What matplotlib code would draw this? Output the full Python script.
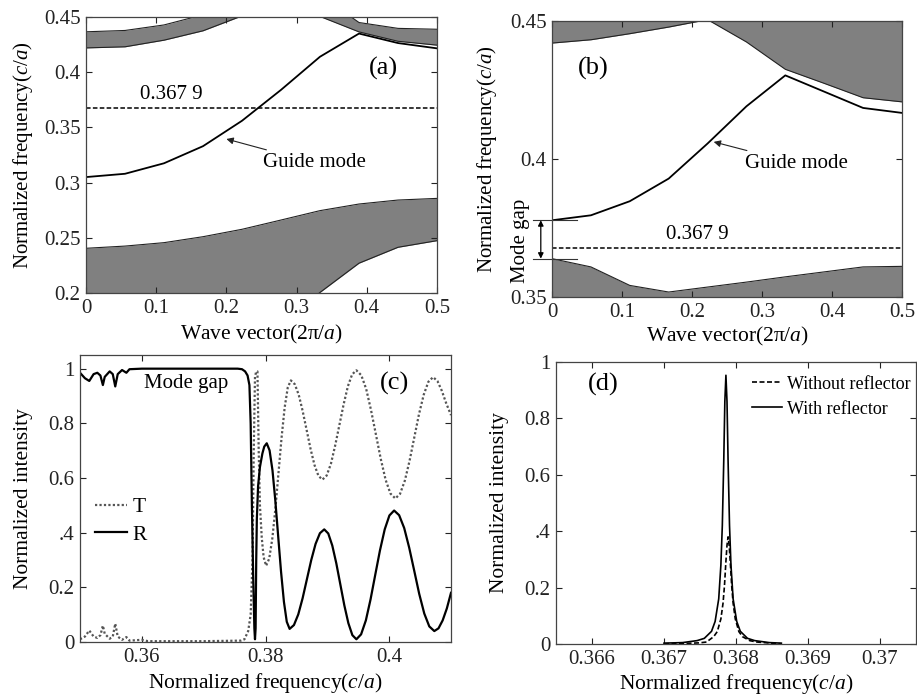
import matplotlib
matplotlib.use("Agg")
import matplotlib.pyplot as plt

plt.rcParams['font.family'] = ['Liberation Serif', 'DejaVu Serif']
plt.rcParams['mathtext.fontset'] = 'custom'
plt.rcParams['mathtext.rm'] = 'Liberation Serif'
plt.rcParams['mathtext.it'] = 'Liberation Serif:italic'
plt.rcParams['mathtext.bf'] = 'Liberation Serif:bold'

# ---------------- band diagrams ----------------
wave_vector = [0.0, 0.0556, 0.1111, 0.1667, 0.2222, 0.2778, 0.3333, 0.3889, 0.4444, 0.5]

# (a) waveguide without reflector
a_guide = [0.305, 0.308, 0.3175, 0.333, 0.356, 0.384, 0.414, 0.435, 0.4264, 0.4216]
a_upper_lo = [0.422, 0.423, 0.429, 0.4375, 0.451, 0.47, 0.4505, 0.4365, 0.428, 0.4245]
a_upper_hi = [0.4366, 0.4378, 0.4428, 0.452, 0.49, 0.49, 0.47, 0.445, 0.4397, 0.4389]
a_lower_lo = [0.10, 0.10, 0.10, 0.10, 0.10, 0.17, 0.2005, 0.227, 0.2414, 0.2474]
a_lower_hi = [0.2405, 0.2425, 0.2456, 0.251, 0.2577, 0.2661, 0.2746, 0.2806, 0.2842, 0.2857]

# (b) waveguide with reflector
b_guide = [0.3778, 0.3796, 0.3847, 0.3929, 0.4056, 0.4191, 0.4303, 0.4244, 0.4185, 0.4167]
b_upper_lo = [0.442, 0.4432, 0.4454, 0.4478, 0.4505, 0.4424, 0.4325, 0.4274, 0.4222, 0.4207]
b_upper_hi = [0.46] * 10
b_lower_lo = [0.34] * 10
b_lower_hi = [0.3639, 0.3609, 0.3542, 0.3518, 0.3536, 0.3554, 0.3573, 0.3591, 0.3609, 0.3611]

resonance = 0.3679

# ---------------- (c) transmission / reflection spectra ----------------
freq_R = [0.3500, 0.3508, 0.3515, 0.3522, 0.3528, 0.3533, 0.3537, 0.3540, 0.3548,
          0.3553, 0.3557, 0.3561, 0.3568, 0.3575, 0.3580, 0.3600, 0.3700, 0.3755,
          0.3762, 0.3767, 0.3771, 0.3774, 0.3776, 0.3778, 0.3780, 0.3782, 0.3783,
          0.3784, 0.3785, 0.3786, 0.3788, 0.3791, 0.3795, 0.3798, 0.3802,
          0.38066, 0.38113, 0.38159, 0.38205, 0.38251, 0.38298, 0.38344, 0.3839,
          0.3846, 0.3853, 0.3860, 0.3867, 0.3874, 0.3881, 0.3888, 0.3895,
          0.39015, 0.3908, 0.39145, 0.3921, 0.39275, 0.3934, 0.39405, 0.3947,
          0.39546, 0.39623, 0.39699, 0.39775, 0.39851, 0.39928, 0.40004, 0.4008,
          0.40161, 0.40243, 0.40324, 0.40405, 0.40486, 0.40568, 0.40649, 0.4073,
          0.40798, 0.40865, 0.40933, 0.4100]
refl = [0.985, 0.965, 0.955, 0.980, 0.985, 0.975, 0.940, 0.970, 0.990,
        0.980, 0.935, 0.980, 0.995, 0.985, 0.998, 1.000, 1.000, 1.000,
        0.998, 0.990, 0.975, 0.940, 0.800, 0.500, 0.250, 0.050, 0.010,
        0.050, 0.300, 0.450, 0.570, 0.640, 0.690, 0.715, 0.727,
        0.701, 0.628, 0.517, 0.387, 0.258, 0.147, 0.074, 0.048,
        0.062, 0.101, 0.160, 0.230, 0.300, 0.359, 0.398, 0.412,
        0.397, 0.353, 0.288, 0.211, 0.134, 0.069, 0.025, 0.010,
        0.028, 0.079, 0.156, 0.246, 0.335, 0.412, 0.463, 0.481,
        0.464, 0.417, 0.345, 0.261, 0.176, 0.104, 0.057, 0.040,
        0.050, 0.079, 0.123, 0.180]

freq_T = [0.3500, 0.3508, 0.3515, 0.3522, 0.3528, 0.3533, 0.3537, 0.3540, 0.3548,
          0.3553, 0.3557, 0.3561, 0.3568, 0.3575, 0.3580, 0.3600, 0.3610, 0.3700,
          0.3760, 0.3766, 0.3772, 0.3776, 0.3779, 0.3781, 0.3783, 0.3785, 0.3787,
          0.3789, 0.3791, 0.3794, 0.3797, 0.3801,
          0.3806, 0.3811, 0.3816, 0.3821, 0.3826, 0.3831, 0.3836, 0.3841,
          0.38474, 0.38538, 0.38601, 0.38665, 0.38729, 0.38793, 0.38856, 0.3892,
          0.38989, 0.39058, 0.39126, 0.39195, 0.39264, 0.39333, 0.39401, 0.3947,
          0.39549, 0.39628, 0.39706, 0.39785, 0.39864, 0.39943, 0.40021, 0.4010,
          0.40176, 0.40253, 0.40329, 0.40405, 0.40481, 0.40558, 0.40634, 0.4071,
          0.4078, 0.4085, 0.4092, 0.4100]
trans = [0.010, 0.020, 0.042, 0.020, 0.015, 0.025, 0.060, 0.030, 0.012,
         0.020, 0.067, 0.020, 0.008, 0.018, 0.005, 0.008, 0.003, 0.003,
         0.005, 0.010, 0.040, 0.100, 0.300, 0.700, 0.970, 0.990, 0.990,
         0.700, 0.500, 0.380, 0.310, 0.279,
         0.305, 0.378, 0.488, 0.618, 0.748, 0.858, 0.931, 0.957,
         0.943, 0.904, 0.845, 0.776, 0.706, 0.647, 0.608, 0.594,
         0.609, 0.652, 0.718, 0.794, 0.870, 0.936, 0.979, 0.994,
         0.976, 0.926, 0.849, 0.760, 0.670, 0.593, 0.543, 0.525,
         0.542, 0.590, 0.662, 0.747, 0.832, 0.904, 0.952, 0.969,
         0.955, 0.920, 0.875, 0.830]

# ---------------- (d) output near the resonance ----------------
freq_with = [0.36700, 0.36726, 0.36746, 0.36756, 0.36766, 0.36771, 0.36776, 0.36779,
             0.36781, 0.36783, 0.367845, 0.36786, 0.367875, 0.36789, 0.36791, 0.36793,
             0.36796, 0.36801, 0.36806, 0.36816, 0.36826, 0.36846, 0.36863]
with_refl = [0.003, 0.005, 0.012, 0.020, 0.045, 0.080, 0.160, 0.280,
             0.420, 0.650, 0.860, 0.953, 0.860, 0.650, 0.420, 0.280,
             0.160, 0.080, 0.045, 0.020, 0.012, 0.005, 0.003]

freq_without = [0.36700, 0.36729, 0.36749, 0.36759, 0.36769, 0.36774, 0.36779, 0.36782,
                0.36784, 0.36786, 0.367875, 0.36789, 0.367905, 0.36792, 0.36794, 0.36796,
                0.36799, 0.36804, 0.36809, 0.36819, 0.36829, 0.36849, 0.36863]
without_refl = [0.001, 0.002, 0.004, 0.007, 0.026, 0.044, 0.089, 0.145,
                0.207, 0.293, 0.350, 0.380, 0.350, 0.293, 0.207, 0.145,
                0.089, 0.044, 0.026, 0.012, 0.007, 0.003, 0.001]

BAND_GRAY = '#808080'
FS_TICK = 15
FS_LABEL = 15.5
FS_PANEL = 19

W, H = 917, 697
fig = plt.figure(figsize=(W / 100, H / 100), dpi=100)


def add_axes(left, top, right, bottom):
    return fig.add_axes([left / W, 1 - bottom / H, (right - left) / W, (bottom - top) / H])


def style(ax):
    ax.tick_params(direction='in', top=True, right=True, length=4, width=0.8,
                   labelsize=FS_TICK, pad=4, colors='#222222')
    for s in ax.spines.values():
        s.set_color('#444444')
        s.set_linewidth(0.9)


def labels(ax, xlabel, ylabel, xpos, ypos, ysize=FS_LABEL):
    ax.set_xlabel(xlabel, fontsize=FS_LABEL)
    ax.set_ylabel(ylabel, fontsize=ysize)
    ax.xaxis.label.set_verticalalignment('center')
    ax.yaxis.label.set_verticalalignment('center')
    ax.xaxis.set_label_coords(0.5, xpos)
    ax.yaxis.set_label_coords(ypos, 0.5)


def band(ax, lo, hi):
    ax.fill_between(wave_vector, lo, hi, color=BAND_GRAY, lw=0)
    ax.plot(wave_vector, lo, color='#222222', lw=0.8)
    ax.plot(wave_vector, hi, color='#222222', lw=0.8)


FREQ_LABEL = 'Normalized frequency($c/a$)'
WAVE_LABEL = 'Wave vector(2π/$a$)'
ARROW = dict(arrowstyle='-|>', color='#222222', lw=0.8, mutation_scale=10,
             shrinkA=2, shrinkB=0)

# ---------- (a) ----------
ax = add_axes(86, 17, 437, 293)
band(ax, a_upper_lo, a_upper_hi)
band(ax, a_lower_lo, a_lower_hi)
ax.plot(wave_vector, a_guide, color='black', lw=1.3)
ax.axhline(resonance, color='black', lw=1.1, ls=(0, (3, 1.5)))
ax.text(0.122, resonance + 0.003, '0.367 9', ha='center', va='bottom', fontsize=FS_TICK)
ax.annotate('Guide mode', xy=(0.2, 0.3395), xytext=(0.252, 0.3265),
            ha='left', va='top', fontsize=FS_TICK, arrowprops=ARROW)
ax.text(0.423, 0.4038, '(a)', ha='center', va='center', fontsize=FS_PANEL)
ax.set_xlim(0, 0.5)
ax.set_ylim(0.2, 0.45)
ax.set_xticks([0, 0.1, 0.2, 0.3, 0.4, 0.5])
ax.set_xticklabels(['0', '0.1', '0.2', '0.3', '0.4', '0.5'])
ax.set_yticks([0.2, 0.25, 0.3, 0.35, 0.4, 0.45])
ax.set_yticklabels(['0.2', '0.25', '0.3', '0.35', '0.4', '0.45'])
style(ax)
labels(ax, WAVE_LABEL, FREQ_LABEL, -0.152, -0.18, 15)

# ---------- (b) ----------
ax = add_axes(552, 21, 902, 297)
band(ax, b_upper_lo, b_upper_hi)
band(ax, b_lower_lo, b_lower_hi)
ax.plot(wave_vector, b_guide, color='black', lw=1.3)
ax.axhline(resonance, color='black', lw=1.1, ls=(0, (3, 1.5)))
ax.text(0.207, resonance + 0.0012, '0.367 9', ha='center', va='bottom', fontsize=FS_TICK)
ax.annotate('Guide mode', xy=(0.231, 0.4062), xytext=(0.276, 0.4018),
            ha='left', va='top', fontsize=FS_TICK, arrowprops=ARROW)
ax.text(0.059, 0.4327, '(b)', ha='center', va='center', fontsize=FS_PANEL)
# mode gap marker on the left edge
gap_top, gap_bottom = b_guide[0], b_lower_hi[0]
for g in (gap_top, gap_bottom):
    ax.plot([-0.027, 0.035], [g, g], color='#333333', lw=0.8, clip_on=False)
ax.annotate('', xy=(-0.016, gap_bottom), xytext=(-0.016, gap_top),
            arrowprops=dict(arrowstyle='<|-|>', color='black', lw=0.9,
                            mutation_scale=8, shrinkA=0, shrinkB=0),
            annotation_clip=False)
ax.text(-0.045, 0.3705, 'Mode gap', rotation=90, ha='center', va='center',
        fontsize=FS_TICK, clip_on=False)
ax.set_xlim(0, 0.5)
ax.set_ylim(0.35, 0.45)
ax.set_xticks([0, 0.1, 0.2, 0.3, 0.4, 0.5])
ax.set_xticklabels(['0', '0.1', '0.2', '0.3', '0.4', '0.5'])
ax.set_yticks([0.35, 0.4, 0.45])
ax.set_yticklabels(['0.35', '0.4', '0.45'])
style(ax)
labels(ax, WAVE_LABEL, FREQ_LABEL, -0.144, -0.187, 15)

# ---------- (c) ----------
ax = add_axes(80, 355, 451, 642)
ax.plot(freq_T, trans, color='#555555', lw=1.6, ls=(0, (1, 1)), label='T')
ax.plot(freq_R, refl, color='black', lw=1.6, label='R')
ax.text(0.3604, 0.945, 'Mode gap', ha='left', va='center', fontsize=FS_TICK)
ax.text(0.4008, 0.946, '(c)', ha='center', va='center', fontsize=FS_PANEL)
ax.legend(loc='upper left', bbox_to_anchor=(0.04, 0.505), frameon=False,
          fontsize=FS_LABEL, handlelength=1.5, handletextpad=0.25,
          labelspacing=0.35, borderaxespad=0, borderpad=0)
ax.set_xlim(0.35, 0.41)
ax.set_ylim(0, 1.05)
ax.set_xticks([0.36, 0.38, 0.40])
ax.set_xticklabels(['0.36', '0.38', '0.4'])
ax.set_yticks([0, 0.2, 0.4, 0.6, 0.8, 1.0])
ax.set_yticklabels(['0', '0.2', '.4', '0.6', '0.8', '1'])
style(ax)
labels(ax, 'Normalized frequency($c/a$)', 'Normalized intensity', -0.144, -0.153)

# ---------- (d) ----------
ax = add_axes(556, 362, 916, 644)
ax.plot(freq_without, without_refl, color='black', lw=1.2, ls=(0, (3, 1.5)),
        label='Without reflector')
ax.plot(freq_with, with_refl, color='black', lw=1.2, label='With reflector')
ax.text(0.36616, 0.92, '(d)', ha='center', va='center', fontsize=FS_PANEL)
ax.legend(loc='upper left', bbox_to_anchor=(0.5436, 0.952), frameon=False,
          fontsize=13, handlelength=1.67, handletextpad=0.28,
          labelspacing=0.45, borderaxespad=0, borderpad=0)
ax.set_xlim(0.3655, 0.3705)
ax.set_ylim(0, 1.0)
ax.set_xticks([0.366, 0.367, 0.368, 0.369, 0.370])
ax.set_xticklabels(['0.366', '0.367', '0.368', '0.369', '0.37'])
ax.set_yticks([0, 0.2, 0.4, 0.6, 0.8, 1.0])
ax.set_yticklabels(['0', '0.2', '.4', '0.6', '0.8', '1'])
style(ax)
labels(ax, 'Normalized frequency($c/a$)', 'Normalized intensity', -0.142, -0.156)

fig.savefig('out.png', dpi=100)
